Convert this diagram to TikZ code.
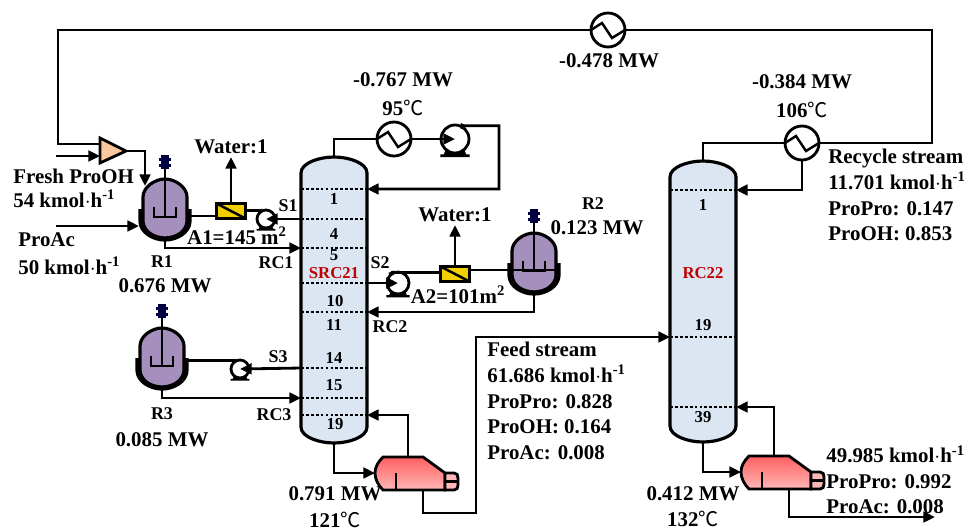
\documentclass[tikz,border=0pt]{standalone}
\usepackage{fontspec}
\setmainfont{Liberation Serif}
\newfontfamily\cjk{Noto Sans CJK SC}
\usetikzlibrary{arrows.meta}
\definecolor{colfill}{HTML}{DCE6F3}
\definecolor{reacfill}{HTML}{A48FBD}
\definecolor{mixfill}{HTML}{FDC79E}
\definecolor{memfill}{HTML}{F2D000}
\definecolor{stagered}{HTML}{C00000}
\newcommand{\degC}{{\cjk\mdseries\fontsize{11.5}{12}\selectfont ℃}}
\newcommand{\kmolh}{kmol$\cdot$h\textsuperscript{-1}}
\tikzset{
    pipe/.style = {line width=1.6pt, line join=miter},
    flow/.style = {pipe, -{Triangle[length=6.6pt,width=6pt]}},
    stageline/.style = {line width=0.6pt, dash pattern=on 1.6pt off 1.2pt},
    lab/.style = {inner sep=0pt, font=\bfseries\fontsize{11.9}{14.6}\selectfont},
    tag/.style = {inner sep=0pt, font=\bfseries\fontsize{10.2}{12}\selectfont},
    stagelab/.style = {inner sep=0pt, font=\bfseries\fontsize{9.5}{11}\selectfont},
    hxnode/.style = {circle, draw, line width=1.6pt, fill=white, minimum size=0.68cm, inner sep=0pt,
        path picture={\draw[line width=1.4pt] (path picture bounding box.west) -- ++(11,-7) -- ++(10,15) -- (path picture bounding box.east);}},
    memnode/.style = {rectangle, draw, line width=1.6pt, fill=memfill, minimum width=0.58cm, minimum height=0.3cm, inner sep=0pt,
        path picture={\draw[line width=1.4pt] (path picture bounding box.north west) -- (path picture bounding box.south east);}},
    pics/column/.style = {code={
        \draw[line width=1.8pt, fill=colfill] (0,16) .. controls (0,6) and (18,0) .. (33,0) .. controls (48,0) and (66,6) .. (66,16)
            -- (66,#1-16) .. controls (66,#1-6) and (48,#1) .. (33,#1) .. controls (18,#1) and (0,#1-6) .. (0,#1-16) -- cycle;
        \coordinate (-top) at (33,0);
        \coordinate (-bot) at (33,#1);
    }},
    pics/reactor/.style = {code={
        \draw[line width=1.8pt, fill=reacfill] (-22,18) .. controls (-22,8) and (-10,0) .. (0,0) .. controls (10,0) and (22,8) .. (22,18)
            -- (22,42) .. controls (22,52) and (10,60) .. (0,60) .. controls (-10,60) and (-22,52) .. (-22,42) -- cycle;
        \draw[line width=3pt] (-24,30) -- (-24,42) .. controls (-24,53) and (-11,60) .. (0,60) .. controls (11,60) and (24,53) .. (24,42) -- (24,30);
        \draw[line width=1.4pt] (0,-24) -- (0,38);
        \draw[line width=1.4pt] (-11,28) -- (-11,38) -- (11,38) -- (11,28);
        \fill[black!75!blue] (-4,-24) rectangle (4,-10);
        \fill[black!75!blue] (-6,-21) rectangle (6,-18);
        \fill[black!75!blue] (-6,-15) rectangle (6,-12);
        \coordinate (-bot) at (0,60);
        \coordinate (-right) at (24,37);
    }},
    pics/pump/.style = {code={
        \fill (-6,6) -- (-8,11) -- (-10.5,11) -- (-10.5,13) -- (10.5,13) -- (10.5,11) -- (8,11) -- (6,6) -- cycle;
        \draw[line width=1.6pt, fill=white] (0,0) circle (10);
        \fill (4,-11.5) -- (9,-9) -- (4,-7) -- cycle;
        \coordinate (-in) at (0,0);
        \coordinate (-out) at (6,-9.5);
    }},
    pics/reboiler/.style = {code={
        \draw[line width=1.6pt, top color=#1, bottom color=#1!45!white] (8,0) -- (48,0) -- (70,16) -- (70,33) -- (8,33)
            .. controls (3,28) and (0,22) .. (0,16) .. controls (0,10) and (3,5) .. (8,0) -- cycle;
        \draw[line width=1.6pt, fill=#1!45!white] (70,16) -- (79,16) .. controls (82,16) and (83,18) .. (83,21)
            -- (83,28) .. controls (83,31) and (82,33) .. (79,33) -- (70,33) -- cycle;
        \draw[line width=1.4pt] (70,24.5) -- (83,24.5);
        \draw[line width=1.6pt] (21,16) -- (21,33);
        \coordinate (-in) at (0,16);
        \coordinate (-vap) at (33,0);
        \coordinate (-liq) at (48,33);
    }}
}
\begin{document}
\begin{tikzpicture}[x=0.02cm, y=-0.02cm]
    \useasboundingbox (0,0) rectangle (969,528);
    % columns
    \pic (SRC21) at (301,157) {column=286};
    \pic (RC22) at (670,161) {column=281};
    \draw [stageline] (301,189) -- (367,189) coordinate (SRCfeedtop);
    \draw [stageline] (301,219) coordinate (portS1) -- (367,219);
    \draw [stageline] (301,248) coordinate (portRC1) -- (367,248);
    \draw [stageline] (301,283) -- (367,283) coordinate (portS2);
    \draw [stageline] (301,312) -- (367,312) coordinate (portRC2);
    \draw [stageline] (301,368) coordinate (portS3) -- (367,368);
    \draw [stageline] (301,398) coordinate (portRC3) -- (367,398);
    \draw [stageline] (301,415) -- (367,415) coordinate (portReb1);
    \draw [stageline] (670,190) -- (736,190) coordinate (portRec);
    \draw [stageline] (670,337) coordinate (portFeed) -- (736,337);
    \draw [stageline] (670,407) -- (736,407) coordinate (portReb2);
    % equipment
    \pic (R1) at (165,179) {reactor};
    \pic (R2) at (534,233) {reactor};
    \pic (R3) at (162,328) {reactor};
    \pic[scale=1.4] (Ptop) at (455,139) {pump};
    \pic[scale=0.9, xscale=-1] (P1) at (266,219) {pump};
    \pic[scale=1.1, xscale=-1] (P2) at (398,283) {pump};
    \pic[scale=0.9, xscale=-1] (P3) at (240,369) {pump};
    \pic (Reb1) at (375,457) {reboiler=red!50!pink};
    \pic (Reb2) at (741,456) {reboiler=red!50!pink};
    \node [hxnode] (HXtop) at (608,30) {};
    \node [hxnode] (HX1) at (394,139) {};
    \node [hxnode] (HX2) at (802,143) {};
    \node [memnode] (A1box) at (231,211) {};
    \node [memnode] (A2box) at (455,274) {};
    \draw [line width=1.6pt, fill=mixfill] (100,138) -- (126,151) -- (100,163) -- cycle;
    \coordinate (mixin1) at (100,144);
    \coordinate (mixin2) at (100,156);
    \coordinate (mixout) at (126,151);
    \coordinate (freshstart) at (56,156);
    \coordinate (proacstart) at (56,226);
    \coordinate (proacend) at (139,226);
    \coordinate (r1in) at (145,186);
    \coordinate (w1end) at (231,157);
    \coordinate (w2end) at (455,225);
    \coordinate (feedcorner) at (476,513);
    \coordinate (prodend) at (935,517);
    % streams
    \draw [pipe] (HX2.east) -- (932,143) -- (932,30) -- (HXtop.east);
    \draw [pipe] (HXtop.west) -- (58,30) |- (mixin1);
    \draw [flow] (freshstart) -- (mixin2);
    \draw [flow] (mixout) -| (r1in);
    \draw [flow] (proacstart) -- (proacend);
    \draw [pipe] (R1-right) -- (R1-right -| A1box.west);
    \draw [pipe] (P1-out) -- (P1-out -| A1box.east);
    \draw [flow] (A1box.north) -- (w1end);
    \draw [flow] (portS1) -- (P1-in);
    \draw [flow] (R1-bot) |- (portRC1);
    \draw [pipe] (SRC21-top) |- (HX1.west);
    \draw [flow] (HX1.east) -- (Ptop-in);
    \draw [flow] (Ptop-out) -- (499,125.7) |- (SRCfeedtop);
    \draw [pipe] (R2-right) -- (R2-right -| A2box.east);
    \draw [pipe] (P2-out) -- (P2-out -| A2box.west);
    \draw [flow] (A2box.north) -- (w2end);
    \draw [flow] (portS2) -- (P2-in);
    \draw [flow] (R2-bot) |- (portRC2);
    \draw [flow] (portS3) -- (P3-in);
    \draw [pipe] (P3-out) -- (P3-out -| R3-right);
    \draw [flow] (R3-bot) |- (portRC3);
    \draw [flow] (SRC21-bot) |- (Reb1-in);
    \draw [flow] (Reb1-vap) |- (portReb1);
    \draw [flow] (Reb1-liq) |- (feedcorner) |- (portFeed);
    \draw [pipe] (RC22-top) |- (HX2.west);
    \draw [flow] (HX2.south) |- (portRec);
    \draw [flow] (RC22-bot) |- (Reb2-in);
    \draw [flow] (Reb2-vap) |- (portReb2);
    \draw [flow] (Reb2-liq) |- (prodend);
    % stage numbers
    \node [stagelab] (n1) at (334,199) {1};
    \node [stagelab] (n4) at (334,234) {4};
    \node [stagelab] (n5) at (334,255) {5};
    \node [stagelab, text=stagered] (nSRC) at (334,273) {SRC21};
    \node [stagelab] (n10) at (335,301) {10};
    \node [stagelab] (n11) at (334,325) {11};
    \node [stagelab] (n14) at (334,358) {14};
    \node [stagelab] (n15) at (334,385) {15};
    \node [stagelab] (n19) at (335,424) {19};
    \node [stagelab] (m1) at (703,205) {1};
    \node [stagelab, text=stagered] (nRC) at (703,273) {RC22};
    \node [stagelab] (m19) at (703,325) {19};
    \node [stagelab] (m39) at (703,417) {39};
    % labels
    \node [lab] (Qtop) at (609,61) {-0.478 MW};
    \node [lab] (Q1) at (403,80) {-0.767 MW};
    \node [lab] (T1) at (403,108) {95\degC};
    \node [lab] (Q2) at (802,82) {-0.384 MW};
    \node [lab] (T2) at (802,110) {106\degC};
    \node [lab, anchor=west] (fresh1) at (13,176) {Fresh ProOH};
    \node [lab, anchor=west] (fresh2) at (13,199) {54 \kmolh};
    \node [lab, anchor=west] (acid1) at (18,240) {ProAc};
    \node [lab, anchor=west] (acid2) at (18,266) {50 \kmolh};
    \node [lab] (w1) at (231,147) {Water:1};
    \node [lab] (w2) at (455,215) {Water:1};
    \node [lab] (A1) at (237,236) {A1=145 m\textsuperscript{2}};
    \node [lab] (A2) at (458,295) {A2=101m\textsuperscript{2}};
    \node [tag] (S1) at (288,206) {S1};
    \node [tag] (S2) at (380,263) {S2};
    \node [tag] (S3) at (278,357) {S3};
    \node [tag] (RC1) at (276,263) {RC1};
    \node [tag] (RC2) at (390,327) {RC2};
    \node [tag] (RC3) at (274,415) {RC3};
    \node [tag] (R1lab) at (162,262) {R1};
    \node [lab] (R1Q) at (165,286) {0.676 MW};
    \node [tag] (R2lab) at (593,204) {R2};
    \node [lab] (R2Q) at (597,228) {0.123 MW};
    \node [tag] (R3lab) at (162,414) {R3};
    \node [lab] (R3Q) at (162,440) {0.085 MW};
    \node [lab] (Q3) at (335,494) {0.791 MW};
    \node [lab] (T3) at (335,520) {121\degC};
    \node [lab] (Q4) at (693,494) {0.412 MW};
    \node [lab] (T4) at (693,519) {132\degC};
    \node [lab, anchor=north west, align=left] (feedlab) at (487,342) {Feed stream\\61.686 \kmolh\\ProPro: 0.828\\ProOH: 0.164\\ProAc: 0.008};
    \node [lab, anchor=north west, align=left] (reclab) at (828,149) {Recycle stream\\11.701 \kmolh\\ProPro: 0.147\\ProOH: 0.853};
    \node [lab, anchor=north west, align=left] (prodlab) at (826,445) {49.985 \kmolh\\ProPro: 0.992\\ProAc: 0.008};
\end{tikzpicture}
\end{document}
